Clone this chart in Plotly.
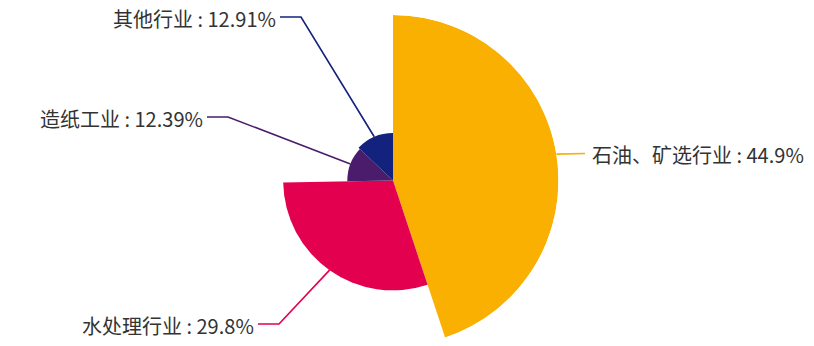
import math
import plotly.graph_objects as go

# ---- data ----
categories = ["石油、矿选行业", "水处理行业", "造纸工业", "其他行业"]
values = [44.9, 29.8, 12.39, 12.91]
label_texts = ["石油、矿选行业 : 44.9%", "水处理行业 : 29.8%", "造纸工业 : 12.39%", "其他行业 : 12.91%"]
colors = ["#F9B000", "#E3004F", "#4A1C6B", "#13227C"]

W, H = 814, 346
CX, CY, R = 393.0, 180.5, 165.5   # pie center / max radius in pixels

total = sum(values)
vmax = max(values)
widths = [v / total * 360 for v in values]
thetas = []
acc = 0.0
for w in widths:
    thetas.append(acc + w / 2)
    acc += w

fig = go.Figure()
fig.add_trace(go.Barpolar(
    r=values, theta=thetas, width=widths,
    marker=dict(color=colors, line=dict(width=0)),
    hoverinfo="skip", showlegend=False,
))

# label layout (pixel positions of the elbow and text side)
elbows = [(585, 153.5), (279, 324), (228, 117), (301, 17)]
sides = ["right", "left", "left", "left"]

def px(x, y):
    return x / W, 1 - y / H

shapes = []
annotations = []
for i, v in enumerate(values):
    rr = v / vmax * R
    a = math.radians(thetas[i])
    sx = CX + rr * math.sin(a)
    sy = CY - rr * math.cos(a)
    ex, ey = elbows[i]
    if sides[i] == "right":
        tx = ex + 3
        pts = [(sx, sy), (ex, ey)]
    else:
        tx = ex - 21
        pts = [(sx, sy), (ex, ey), (tx, ey)]
    path = "M " + " L ".join(f"{px(x, y)[0]:.5f},{px(x, y)[1]:.5f}" for x, y in pts)
    shapes.append(dict(type="path", path=path, xref="paper", yref="paper",
                       line=dict(color=colors[i], width=1.6)))
    ax, ay = px(tx + (2 if sides[i] == "right" else -2), ey + 1)
    annotations.append(dict(
        x=ax, y=ay, xref="paper", yref="paper", showarrow=False,
        text=label_texts[i].replace(" : ", "&nbsp;:&nbsp;"),
        xanchor="left" if sides[i] == "right" else "right",
        yanchor="middle",
        font=dict(family="Noto Sans CJK SC, Microsoft YaHei, sans-serif", size=20, color="#333333"),
    ))

fig.update_layout(
    width=W, height=H,
    margin=dict(l=0, r=0, t=0, b=0),
    paper_bgcolor="white", plot_bgcolor="white",
    polar=dict(
        domain=dict(x=[(CX - R) / W, (CX + R) / W], y=[(H - CY - R) / H, (H - CY + R) / H]),
        bgcolor="rgba(0,0,0,0)",
        radialaxis=dict(visible=False, range=[0, vmax], showgrid=False),
        angularaxis=dict(visible=False, rotation=90, direction="clockwise", showgrid=False),
        bargap=0,
    ),
    shapes=shapes,
    annotations=annotations,
)

fig.write_html("out.html")
